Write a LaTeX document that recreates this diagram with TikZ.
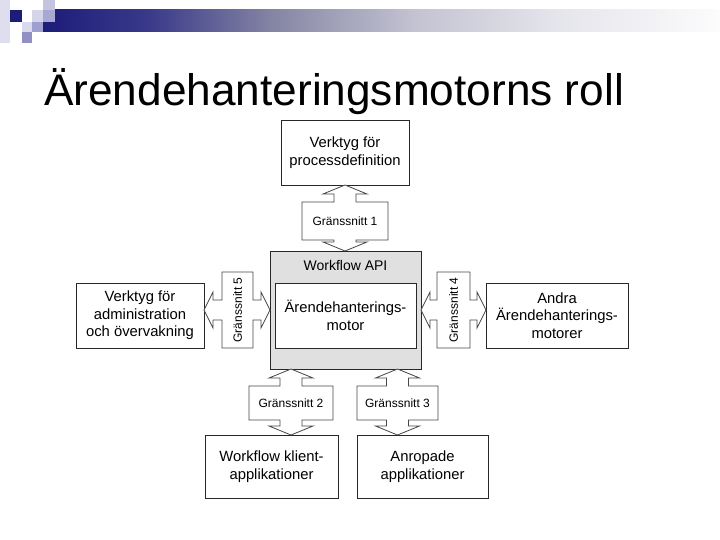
\documentclass[tikz,border=0pt]{standalone}
\usepackage{fontspec}
\setmainfont{Liberation Sans}
\definecolor{navy}{RGB}{28,28,122}
\definecolor{barB}{RGB}{58,58,138}
\definecolor{barC}{RGB}{135,135,165}
\definecolor{barD}{RGB}{195,195,210}
\definecolor{barE}{RGB}{228,228,235}
\definecolor{barF}{RGB}{252,252,253}
\definecolor{sqA}{RGB}{212,212,234}
\definecolor{sqB}{RGB}{196,196,224}
\definecolor{sqC}{RGB}{168,168,210}
\definecolor{sqD}{RGB}{218,218,238}
\definecolor{sqE}{RGB}{160,160,208}
\definecolor{sqF}{RGB}{144,144,196}
\definecolor{stripc}{RGB}{222,222,238}
\definecolor{boxline}{RGB}{40,40,40}
\definecolor{connline}{RGB}{70,70,70}
\definecolor{apigrey}{RGB}{224,224,224}
\pgfdeclarehorizontalshading{barshade}{100bp}{color(0bp)=(navy); color(25bp)=(navy); color(32.9bp)=(barB); color(42.2bp)=(barC); color(52.5bp)=(barD); color(62.7bp)=(barE); color(75bp)=(barF); color(100bp)=(barF)}
\newcommand\vconn[6]{% c, top tip, bottom tip, y1, y2, W
  \draw[conn] (#1,#2) -- ({#1-22},{#2+9}) -- ({#1-11},{#2+9}) -- ({#1-11},#4) -- ({#1-#6},#4) -- ({#1-#6},#5)
   -- ({#1-11},#5) -- ({#1-11},{#3-9}) -- ({#1-22},{#3-9}) -- (#1,#3) -- ({#1+22},{#3-9}) -- ({#1+11},{#3-9})
   -- ({#1+11},#5) -- ({#1+#6},#5) -- ({#1+#6},#4) -- ({#1+11},#4) -- ({#1+11},{#2+9}) -- ({#1+22},{#2+9}) -- cycle;}
\newcommand\hconn[6]{% cy, left tip, right tip, x1, x2, W
  \draw[conn] (#2,#1) -- ({#2+9},{#1-18}) -- ({#2+9},{#1-10}) -- (#4,{#1-10}) -- (#4,{#1-#6}) -- (#5,{#1-#6})
   -- (#5,{#1-10}) -- ({#3-9},{#1-10}) -- ({#3-9},{#1-18}) -- (#3,#1) -- ({#3-9},{#1+18}) -- ({#3-9},{#1+10})
   -- (#5,{#1+10}) -- (#5,{#1+#6}) -- (#4,{#1+#6}) -- (#4,{#1+10}) -- ({#2+9},{#1+10}) -- ({#2+9},{#1+18}) -- cycle;}
\begin{document}
\begin{tikzpicture}[x=1pt,y=-1pt,
  box/.style={draw=boxline, line width=0.9pt, fill=white, align=center,
    font=\fontsize{14.8}{17.5}\selectfont, inner sep=0pt},
  conn/.style={draw=connline, line width=0.8pt, fill=white, line join=miter},
  glabel/.style={font=\fontsize{12}{14}\selectfont, inner sep=0pt}]
\useasboundingbox (0,0) rectangle (720,540);
% corner decoration
\fill[stripc] (0,0) rectangle (10,43);
\shade[shading=barshade] (43,10) rectangle (720,32);
\fill[navy] (10,10) rectangle (22,22);
\fill[sqA] (32,10) rectangle (43,22);
\fill[sqB] (43,0) rectangle (55,10);
\fill[sqC] (43,10) rectangle (55,22);
\fill[sqD] (22,22) rectangle (32,32);
\fill[sqE] (32,22) rectangle (43,32);
\fill[sqF] (22,32) rectangle (32,43);
% title
\node[anchor=base west, inner sep=0pt, font=\fontsize{44.2}{50}\selectfont] (title) at (44,106) {Ärendehanteringsmotorns roll};
% boxes
\node[box, minimum width=128, minimum height=65] (top) at (345,152.5) {Verktyg för\\processdefinition};
\node[box, fill=apigrey, minimum width=151, minimum height=118] (api) at (345.5,310) {};
\node[font=\fontsize{14}{16}\selectfont, inner sep=0pt] (apilabel) at (345.5,265.5) {Workflow API};
\node[box, minimum width=141, minimum height=65] (motor) at (345.5,315.5) {Ärendehanterings-\\motor};
\node[box, minimum width=128, minimum height=65] (left) at (140,315.5) {Verktyg för\\administration\\och övervakning};
\node[box, minimum width=142, minimum height=65] (right) at (557,315.5) {Andra\\Ärendehanterings-\\motorer};
\node[box, minimum width=133, minimum height=63] (bl) at (271.5,466.5) {Workflow klient-\\applikationer};
\node[box, minimum width=131, minimum height=63] (br) at (422.5,466.5) {Anropade\\applikationer};
% interface connectors
\vconn{345}{185}{251}{202}{240}{43}
\node[glabel] (g1) at (345,221) {Gränssnitt 1};
\vconn{291}{369}{435}{386}{420}{42}
\node[glabel] (g2) at (291,403) {Gränssnitt 2};
\vconn{397.5}{369}{435}{386}{420}{40.5}
\node[glabel] (g3) at (397.5,403) {Gränssnitt 3};
\hconn{310}{204}{270}{222}{253}{38}
\node[glabel, rotate=90] (g5) at (237.5,310) {Gränssnitt 5};
\hconn{310}{421}{486}{437}{470}{38}
\node[glabel, rotate=90] (g4) at (453.5,310) {Gränssnitt 4};
\end{tikzpicture}
\end{document}
